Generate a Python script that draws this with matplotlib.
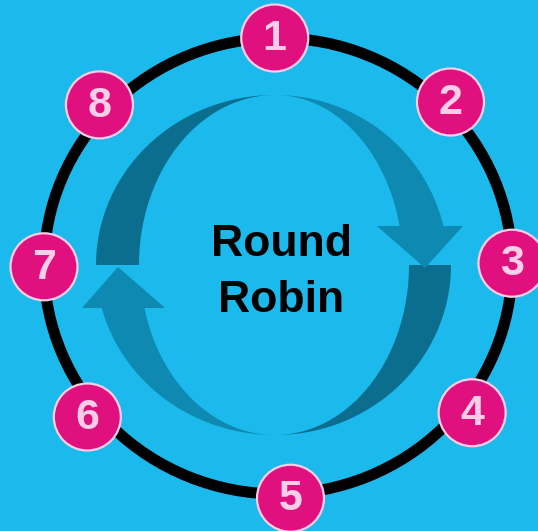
import numpy as np
import matplotlib
matplotlib.use("Agg")
import matplotlib.pyplot as plt
from matplotlib.patches import Polygon, Circle, Ellipse

# ---- data ----
node_labels = ["1", "2", "3", "4", "5", "6", "7", "8"]
center_lines = ["Round", "Robin"]

# ---- layout (pixel space, y downwards) ----
W, H = 538, 531
BG = "#1BB9EC"
DARK = "#0B6E8F"
LIGHT = "#0E89B1"
PINK = "#E0117F"
PALE = "#FBCDE6"

ring_c = (278, 266)
ring_rx, ring_ry = 234, 228
node_angles = [90.8, 44.3, 0.7, -37.8, -87.0, -140.9, 180.2, 137.2]
node_radial = [1.0, 1.03, 1.0, 1.05, 1.02, 1.05, 1.0, 1.04]
node_r = 33.5

fig = plt.figure(figsize=(W / 100, H / 100), dpi=100, facecolor=BG)
ax = fig.add_axes([0, 0, 1, 1])
ax.set_xlim(0, W)
ax.set_ylim(H, 0)
ax.set_facecolor(BG)
ax.axis("off")

cx, cy = 275, 265
b = 170


def ell(a, th):
    th = np.radians(th)
    return np.column_stack([cx + a * np.cos(th), cy - b * np.sin(th)])


def crescent(a_out, a_in, t0, t1, color):
    t = np.linspace(t0, t1, 120)
    pts = np.vstack([ell(a_out, t), ell(a_in, t[::-1])])
    ax.add_patch(Polygon(pts, closed=True, facecolor=color, edgecolor="none", zorder=2))


def arrow(a_out, a_in, t0, t1, head_l, head_r, tip, color):
    t = np.linspace(t0, t1, 120)
    outer = ell(a_out, t)
    inner = ell(a_in, t)[::-1]
    pts = np.vstack([outer, [head_l], [tip], [head_r], inner])
    ax.add_patch(Polygon(pts, closed=True, facecolor=color, edgecolor="none", zorder=2))


# dark top-left band
crescent(179, 136, 90, 180, DARK)
# dark right band
crescent(176, 134, 0, -90, DARK)
# light top-right arrow (pointing down)
th_end = np.degrees(np.arcsin(39 / b))
arrow(173, 128, 90, th_end, (463, 226), (377, 226), (425, 268), LIGHT)
# light bottom-left arrow (pointing up)
th_end2 = 180 + np.degrees(np.arcsin(43 / b))
arrow(179, 135, -90, -360 + th_end2, (82, 308), (165, 308), (118, 267), LIGHT)

# ring
ax.add_patch(Ellipse(ring_c, 2 * ring_rx, 2 * ring_ry, facecolor="none",
                     edgecolor="black", linewidth=8, zorder=3))

# nodes
for lab, ang, rf in zip(node_labels, node_angles, node_radial):
    th = np.radians(ang)
    x = ring_c[0] + ring_rx * rf * np.cos(th)
    y = ring_c[1] - ring_ry * rf * np.sin(th)
    ax.add_patch(Circle((x, y), node_r, facecolor=PINK, edgecolor=PALE,
                        linewidth=1.6, zorder=4))
    ax.text(x, y + 1, lab, ha="center", va="center", fontsize=31,
            fontweight="bold", family="Liberation Sans", color=PALE, zorder=5)

# centre text
for line, yb in zip(center_lines, [256, 312]):
    ax.text(281, yb, line, ha="center", va="baseline", fontsize=32,
            fontweight="bold", family="Liberation Sans", color="black", zorder=5)

fig.savefig("out.png", dpi=100, facecolor=BG)
